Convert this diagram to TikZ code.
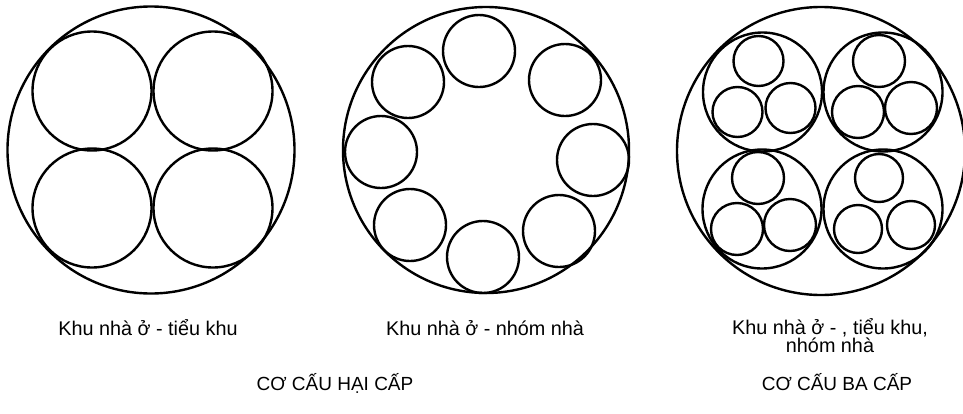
\documentclass[tikz,border=0pt]{standalone}
\usepackage{fontspec}
\setmainfont{Liberation Sans}
\begin{document}
\begin{tikzpicture}[x=0.5pt, y=-0.5pt,
  ring/.style={draw=black, line width=1.2pt},
  lbl/.style={font=\fontsize{9.9}{8.7}\selectfont, align=center, anchor=base, inner sep=0pt},
  ttl/.style={font=\fontsize{9.5}{12}\selectfont, anchor=base, inner sep=0pt}]
\useasboundingbox (0,0) rectangle (963,413);
% hai cap: khu nha o - tieu khu
\draw[ring] (151,150) circle (143.5);
\foreach \cx/\cy in {92/91, 213/91, 92/208, 213/208}
  \draw[ring] (\cx,\cy) circle (59.5);
% hai cap: khu nha o - nhom nha
\draw[ring] (486,150) circle (143);
\foreach \cx/\cy in {479/51, 565/80, 593/160, 559/231, 483/257, 410/225, 381/152, 408/82}
  \draw[ring] (\cx,\cy) circle (36);
% ba cap
\draw[ring] (821,151) circle (144);
\foreach \cx/\cy/\r in {762.5/92/25, 883/92/26, 762/209/26, 883/209/24}{
  \draw[ring] (\cx,\cy) circle (59.5);
  \draw[ring] (\cx-4,\cy-31) circle (\r) (\cx-25,\cy+20) circle (\r) (\cx+28,\cy+16) circle (\r);
}
\node[lbl] (tieukhu) at (148,335) {Khu nhà ở - tiểu khu};
\node[lbl] (nhomnha) at (485,335) {Khu nhà ở - nhóm nhà};
\node[lbl] (bacap) at (830,352) {Khu nhà ở - , tiểu khu,\\nhóm nhà};
\node[ttl] (haicapT) at (335,390) {CƠ CẤU HẠI CẤP};
\node[ttl] (bacapT) at (837,390) {CƠ CẤU BA CẤP};
\end{tikzpicture}
\end{document}
